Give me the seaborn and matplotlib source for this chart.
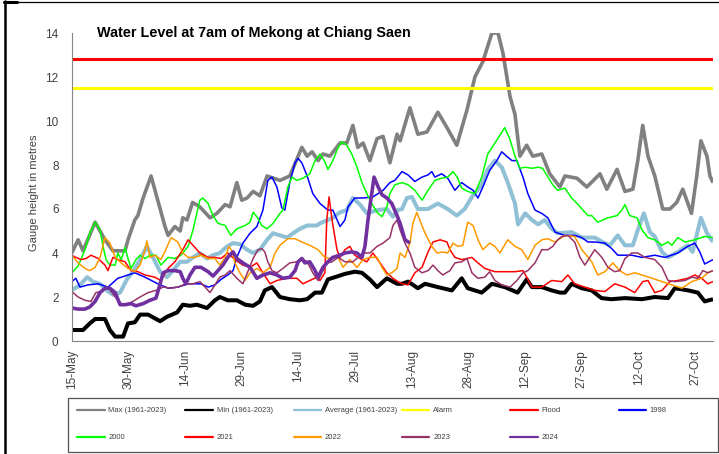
import matplotlib
matplotlib.use("Agg")
import matplotlib.pyplot as plt
import seaborn as sns
from matplotlib.lines import Line2D
from matplotlib.patches import Rectangle

# ---------------- data (day offset from 15-May, gauge height m) ----------------
tick_days = [0, 15, 30, 45, 60, 75, 90, 105, 120, 135, 150, 165]
tick_labels = ["15-May", "30-May", "14-Jun", "29-Jun", "14-Jul", "29-Jul",
               "13-Aug", "28-Aug", "12-Sep", "27-Sep", "12-Oct", "27-Oct"]
season_days = [0, 169.7]
alarm_level = 11.5
flood_level = 12.8

max_1961_2023 = [(0, 4.0), (1.7, 4.6), (3, 4.1), (6.2, 5.4), (7.5, 5.0), (8.8, 4.6), (10.9, 4.1), (14.1, 4.1),
    (14.9, 4.6), (16.7, 5.5), (17.5, 5.7), (18.9, 6.5), (21, 7.5), (22.6, 6.5), (24.7, 5.2), (25.5, 4.8),
    (27.3, 5.2), (28.7, 5.0), (29.4, 5.6), (30.5, 5.5), (32, 6.3), (33.9, 6.1), (36.6, 5.6), (38.4, 5.8),
    (40.6, 6.2), (41.9, 6.1), (43.7, 7.2), (45, 6.4), (46.4, 6.5), (48, 6.8), (49.8, 6.6), (51.7, 7.5),
    (55.1, 7.3), (57.7, 7.5), (60.9, 8.8), (62.3, 8.4), (63.6, 8.6), (65.2, 8.2), (66.5, 8.5), (68.3, 8.4),
    (71, 9.0), (72.8, 9.0), (74.4, 9.8), (75.7, 8.8), (77.1, 9.0), (78.9, 8.2), (80.8, 9.2), (82.4, 9.3),
    (84.2, 8.1), (86.1, 9.4), (86.9, 9.1), (89.5, 10.6), (91.6, 9.4), (94, 9.5), (96.9, 10.4), (99.3, 9.7),
    (101.9, 8.9), (104.6, 10.5), (106.7, 12.0), (108.8, 12.7), (111.2, 14.0), (112.8, 14.0), (114.1, 13.1),
    (116, 11.1), (117.3, 10.3), (118.6, 8.4), (120.4, 8.9), (122, 8.4), (124.4, 8.5), (126.5, 7.6),
    (129.2, 7.0), (130.5, 7.5), (133.7, 7.4), (136.3, 7.0), (139.8, 7.6), (141.6, 6.9), (144.3, 7.8),
    (146.4, 6.8), (148.5, 6.9), (149.8, 8.2), (151.1, 9.8), (152.5, 8.4), (154.3, 7.5), (156.4, 6.0),
    (158.3, 6.0), (160.1, 6.3), (161.7, 6.9), (164, 5.8), (165.4, 7.5), (166.5, 9.1), (168.1, 8.4),
    (168.9, 7.5), (169.7, 7.2)]

min_1961_2023 = [(0, 0.5), (3, 0.5), (4.8, 0.8), (6.2, 1.0), (8.8, 1.0), (10.1, 0.5), (11.5, 0.2), (13.6, 0.2),
    (14.9, 0.8), (16.7, 0.85), (18.1, 1.2), (20.2, 1.2), (23.4, 0.9), (25.2, 1.1), (27.9, 1.3), (29.4, 1.65),
    (31.3, 1.6), (33.1, 1.65), (35.8, 1.5), (37.9, 1.85), (39.2, 2.0), (41.3, 1.85), (43.7, 1.85), (45.9, 1.65),
    (48, 1.6), (49.8, 1.8), (51.1, 2.3), (53, 2.45), (55.1, 2.0), (57.7, 1.9), (60.4, 1.85), (62.3, 1.9),
    (64.4, 2.2), (66.2, 2.2), (67.8, 2.8), (69.6, 2.9), (72.3, 3.05), (74.9, 3.15), (76.8, 3.1), (78.9, 2.8),
    (80.8, 2.45), (83.4, 2.85), (86.1, 2.6), (87.4, 2.6), (89, 2.7), (91.6, 2.4), (93.5, 2.6), (96.9, 2.45),
    (100.6, 2.3), (103.2, 2.85), (104.8, 2.4), (108.5, 2.2), (111.2, 2.6), (114.6, 2.45), (118, 2.2),
    (120.4, 2.8), (121.8, 2.45), (124.4, 2.45), (127, 2.3), (129.2, 2.2), (130.5, 2.2), (132.3, 2.6),
    (134.9, 2.4), (137.6, 2.3), (140.2, 1.95), (142.8, 1.9), (146.4, 1.95), (150.9, 1.9), (154.3, 2.0),
    (157.8, 1.95), (159.6, 2.4), (163.1, 2.3), (165.7, 2.2), (167.5, 1.8), (169.7, 1.9)]

avg_1961_2023 = [(0, 2.3), (2.2, 2.55), (4.1, 2.9), (5.6, 2.7), (7.5, 2.6), (9.3, 2.3), (10.9, 2.1), (12.8, 2.2),
    (14.6, 2.8), (16.2, 3.15), (18.1, 3.7), (19.9, 4.3), (21.5, 3.8), (23.4, 3.15), (25.2, 2.9), (26.8, 3.2),
    (28.7, 3.6), (30.5, 3.6), (32.1, 3.8), (33.9, 4.0), (35.8, 3.75), (37.4, 3.9), (39.2, 4.0), (41.1, 4.3),
    (42.7, 4.45), (44.5, 4.4), (46.4, 4.15), (48, 4.0), (49.8, 4.15), (51.7, 4.6), (53.3, 4.9), (55.1, 4.8),
    (57, 4.7), (58.6, 4.9), (60.4, 5.1), (62.3, 5.25), (64.9, 5.25), (65.7, 5.35), (69.1, 5.6), (71, 5.85),
    (72.8, 5.95), (74.4, 6.5), (76.3, 6.2), (78.1, 5.8), (80.8, 5.95), (83.4, 6.0), (85, 5.65), (86.3, 5.95),
    (87.4, 6.0), (88.7, 6.5), (90, 6.55), (91.6, 6.0), (94.3, 6.0), (96.9, 6.25), (99.5, 6.0), (101.9, 5.7),
    (104, 6.0), (105.9, 6.55), (108.5, 7.1), (110.1, 7.8), (112, 8.2), (113.8, 7.9), (115.4, 7.2),
    (117.3, 6.25), (118.1, 5.3), (120, 5.8), (121.8, 5.5), (123.4, 5.3), (125.2, 5.5), (127, 5.1),
    (128.6, 4.9), (132.3, 4.95), (135, 4.7), (138.4, 4.7), (141, 4.45), (142.4, 4.35), (144.5, 4.8),
    (146.4, 4.35), (148.5, 4.35), (149.8, 5.05), (151.4, 5.8), (153, 4.95), (154.3, 4.75), (156.2, 4.05),
    (157.8, 3.8), (160.4, 4.05), (163, 4.35), (164.3, 4.05), (166.5, 5.6), (168.1, 4.9), (169.7, 4.5)]

y1998 = [(0, 2.7), (1.1, 2.85), (2.2, 2.45), (4.3, 2.55), (7, 2.6), (9.6, 2.45), (12.2, 2.85), (14.9, 3.0),
    (16.7, 3.1), (19.4, 2.9), (22.8, 2.6), (25.5, 2.4), (28.1, 2.45), (30.8, 2.6), (34.2, 2.6), (36.1, 2.45),
    (37.9, 2.55), (39.5, 2.8), (41.3, 3.0), (42.7, 3.2), (43.7, 3.8), (45.3, 4.45), (47.2, 4.9), (49, 5.2),
    (50.6, 5.95), (51.9, 7.3), (53, 7.45), (54.3, 7.0), (55.6, 6.05), (56.4, 5.95), (57.7, 7.2), (59.1, 8.1),
    (59.9, 8.3), (60.9, 8.1), (62.3, 7.5), (63.8, 6.7), (65.7, 6.25), (67.8, 5.95), (69.1, 5.95), (71, 5.2),
    (72.3, 5.5), (73.1, 6.1), (74.9, 6.5), (77.1, 6.5), (79.7, 6.55), (82.4, 6.85), (84.2, 7.2), (85.5, 7.3),
    (87.4, 7.7), (89, 7.55), (90.8, 7.25), (92.7, 7.45), (94.3, 7.55), (95.3, 7.7), (96.1, 7.45), (97.9, 7.6),
    (99.5, 7.4), (101.4, 6.85), (103.2, 7.2), (104.8, 7.0), (106.2, 6.85), (107.5, 6.5), (108.8, 7.0),
    (110.6, 7.75), (112.5, 8.2), (113.8, 8.6), (115.1, 8.4), (116.5, 8.2), (117.8, 8.2), (119.4, 7.45),
    (120.7, 6.7), (122.6, 5.95), (124.4, 5.8), (126, 5.6), (127.9, 4.95), (130.5, 4.8), (133.1, 4.8),
    (135, 4.7), (136.6, 4.5), (138.4, 4.5), (141.1, 4.45), (142.9, 4.2), (144.5, 3.9), (148.2, 3.9),
    (150.9, 3.8), (154.3, 3.9), (157, 3.8), (160.4, 4.0), (163, 4.3), (164.9, 4.45), (166.2, 4.05),
    (167.5, 3.5), (169.7, 3.7)]

y2000 = [(0, 3.1), (1.7, 3.4), (3.5, 4.15), (4.8, 4.9), (6.2, 5.4), (7.5, 5.05), (8.3, 4.3), (9.1, 3.7),
    (10.1, 3.45), (11.5, 3.45), (12.2, 4.0), (13.1, 3.7), (14.1, 4.25), (14.9, 3.75), (15.7, 3.3), (17, 3.7),
    (18.1, 3.9), (19.4, 3.75), (20.7, 3.9), (22.3, 3.9), (23.6, 3.45), (25.5, 3.8), (27.3, 3.75), (28.9, 3.9),
    (30.8, 4.3), (32.1, 5.05), (32.9, 5.65), (33.9, 6.4), (34.7, 6.5), (36.1, 6.25), (37.4, 5.7), (38.7, 5.35),
    (40.6, 5.25), (42.1, 4.8), (43.7, 5.1), (45.9, 5.25), (47.2, 5.4), (48, 5.85), (49, 5.65), (50.3, 5.25),
    (51.7, 5.1), (53.3, 5.35), (55.1, 5.8), (55.9, 5.95), (57.2, 7.0), (58.3, 7.45), (59.6, 7.3), (61.2, 7.4),
    (63, 7.6), (64.4, 8.2), (65.7, 8.5), (67, 8.15), (67.8, 7.8), (69.1, 8.2), (70.5, 8.8), (71.5, 9.05),
    (72.8, 8.9), (74.1, 8.5), (75.5, 7.9), (76.8, 7.2), (78.1, 6.7), (79.4, 6.25), (80.8, 5.85), (82.1, 5.65),
    (83.4, 6.1), (84.2, 6.7), (85.5, 7.1), (87.4, 7.2), (89, 7.1), (90.8, 6.85), (92.7, 6.4), (94.3, 6.85),
    (96.1, 7.3), (97.9, 7.4), (99.5, 7.45), (100.9, 7.7), (102, 7.45), (103.2, 6.95), (104.8, 6.8),
    (106.7, 6.7), (108.5, 7.45), (110.1, 8.5), (112, 9.0), (113.3, 9.35), (114.6, 9.7), (116, 9.15),
    (117.3, 8.4), (118.6, 7.85), (120, 7.9), (121.8, 7.85), (123.4, 7.9), (124.6, 7.85), (126, 7.45),
    (127.3, 7.1), (128.6, 6.85), (130.5, 6.95), (132.3, 6.5), (134, 6.2), (136.6, 5.7), (137.6, 5.7),
    (139.2, 5.4), (141.9, 5.6), (144.3, 5.7), (145.6, 5.95), (146.4, 6.2), (147.7, 5.7), (149.6, 5.6),
    (150.9, 5.05), (152.5, 4.7), (154.3, 4.6), (156.2, 4.35), (157.8, 4.5), (158.8, 4.35), (160.4, 4.7),
    (162.3, 4.5), (164.9, 4.6), (167.5, 4.75), (169.7, 4.7)]

y2021 = [(0, 3.9), (1.1, 3.8), (2.5, 3.7), (3.8, 3.75), (5.1, 3.9), (7, 3.75), (8.8, 3.45), (9.6, 3.2),
    (10.9, 3.8), (12.2, 3.7), (14.1, 3.6), (15.7, 3.2), (17.5, 3.15), (19.4, 3.0), (22, 2.9), (23.6, 2.75),
    (25.5, 3.3), (27.3, 3.6), (29.4, 4.15), (30.8, 4.6), (32.1, 4.35), (33.9, 4.0), (36.1, 3.8), (37.9, 3.8),
    (39.5, 3.75), (41.3, 4.0), (43.2, 3.7), (45.3, 3.45), (47.2, 3.35), (49, 3.55), (50.6, 3.1), (52.5, 2.6),
    (54.3, 2.75), (56.9, 2.85), (59.6, 2.85), (61.2, 2.6), (63, 2.75), (64.9, 2.9), (65.7, 2.75), (67, 3.1),
    (67.5, 5.5), (68.1, 6.55), (68.9, 5.5), (70.2, 4.15), (71, 3.8), (72.3, 4.15), (73.6, 4.3), (74.9, 3.9),
    (76.8, 3.7), (78.1, 3.6), (79.7, 4.0), (81.6, 3.55), (83.4, 3.1), (85, 2.85), (86.3, 2.7), (87.4, 2.6),
    (89, 2.55), (90.8, 3.1), (92.7, 3.35), (94.3, 4.05), (95.6, 4.5), (97.5, 4.6), (99.3, 4.5), (100.1, 4.15),
    (101.4, 3.8), (103.2, 3.7), (105.9, 3.8), (107.5, 3.55), (109.3, 3.3), (112, 3.15), (117.3, 3.15),
    (119.4, 3.2), (120.4, 2.9), (121.8, 2.45), (124.4, 2.45), (127, 2.75), (129.7, 2.7), (131.3, 3.0),
    (133.1, 2.6), (135.8, 2.45), (138.4, 2.3), (141.1, 2.25), (143.7, 2.6), (146.4, 2.45), (149, 2.2),
    (151.1, 2.7), (152.5, 2.75), (154.3, 2.2), (156.2, 2.3), (158.3, 2.7), (160.4, 2.75), (163, 2.85),
    (164.9, 3.0), (166.7, 2.85), (168.3, 2.6), (169.7, 2.7)]

y2022 = [(0, 3.9), (1.7, 3.55), (3.5, 3.3), (4.8, 3.2), (6.2, 3.35), (7.5, 3.8), (8.8, 4.7), (10.1, 4.45),
    (11.5, 3.8), (13.1, 3.55), (14.9, 3.3), (16.7, 3.15), (18.1, 3.45), (19.4, 4.15), (19.9, 4.55), (20.7, 3.8),
    (22, 3.9), (23.6, 3.7), (24.9, 4.15), (26.3, 4.7), (28.1, 4.5), (29.4, 4.0), (30.8, 3.8), (32.6, 3.8),
    (34.2, 3.9), (36.1, 3.75), (37.9, 3.75), (39.2, 3.45), (40.6, 3.8), (41.6, 4.3), (42.4, 4.1), (43.2, 3.55),
    (44.5, 3.1), (45.9, 2.75), (47.2, 3.1), (49, 3.3), (50.6, 3.1), (52.5, 3.35), (53.8, 4.0), (55.1, 4.35),
    (57.2, 4.65), (59.1, 4.65), (60.9, 4.5), (63, 4.35), (65.2, 4.15), (67, 3.8), (68.3, 3.75), (70.2, 3.9),
    (71.8, 3.35), (73.6, 3.7), (75.5, 3.35), (77.1, 3.7), (78.9, 3.8), (80.8, 3.8), (82.1, 3.35), (83.4, 3.0),
    (84.7, 3.1), (86.1, 3.3), (86.9, 4.0), (88.2, 3.8), (89.5, 4.45), (90.3, 5.35), (91.3, 5.85), (92.1, 5.5),
    (93.5, 4.9), (95.3, 4.3), (96.7, 4.0), (98.2, 4.05), (99.5, 4.0), (100.9, 4.45), (102.2, 4.3),
    (103.5, 4.35), (104.8, 5.4), (106.2, 5.25), (107.5, 4.6), (108.8, 4.15), (110.6, 4.45), (112, 4.3),
    (113.3, 4.0), (115.4, 4.6), (117.3, 4.3), (119.1, 4.15), (120.7, 3.7), (122.6, 4.35), (124.4, 4.6),
    (126, 4.65), (127.9, 4.5), (130.5, 4.8), (133.1, 4.75), (135, 4.15), (137.6, 3.6), (139.2, 3.0),
    (141.1, 3.15), (143.2, 3.55), (145, 3.2), (146.9, 3.0), (149, 3.1), (150.9, 3.0), (153.6, 2.85),
    (156.2, 2.7), (158.8, 2.55), (161.5, 2.4), (164.1, 2.7), (166.7, 2.85), (168.3, 3.1), (169.7, 3.2)]

y2023 = [(0, 2.25), (1.7, 2.0), (3.5, 1.85), (5.1, 1.8), (6.4, 2.2), (7.8, 2.25), (9.6, 2.45), (11.5, 2.0),
    (13.1, 1.7), (14.4, 1.65), (16.2, 1.8), (18.1, 2.0), (20.2, 2.2), (22.3, 2.3), (24.2, 2.45), (26.3, 2.4),
    (28.1, 2.45), (30.2, 2.6), (32.1, 2.6), (33.9, 2.7), (35.3, 2.45), (36.6, 2.2), (37.9, 2.55), (39.2, 2.9),
    (40.6, 3.0), (41.9, 3.2), (43.7, 2.85), (45.3, 2.6), (46.6, 3.15), (48, 3.75), (49.3, 4.15), (50.3, 4.2),
    (51.1, 4.05), (51.9, 3.6), (53, 3.2), (54.3, 3.1), (55.9, 3.3), (57.7, 3.55), (59.6, 3.6), (60.9, 3.75),
    (62.3, 3.6), (63.8, 3.1), (65.2, 2.75), (66.2, 3.1), (67.5, 3.55), (68.9, 3.6), (70.5, 3.8), (72.3, 3.6),
    (74.4, 3.6), (77.1, 4.0), (78.9, 4.0), (80.8, 4.3), (82.4, 4.45), (84.2, 4.7), (85, 5.25), (86.1, 5.5),
    (86.9, 5.05), (88.2, 4.45), (89.5, 4.0), (90.8, 3.35), (92.7, 3.1), (94.3, 3.2), (95.6, 3.45), (96.9, 3.2),
    (98.2, 3.0), (100.1, 3.2), (101.4, 3.55), (103.2, 3.6), (104.6, 3.75), (105.9, 3.1), (107.5, 2.85),
    (109.3, 2.9), (110.6, 3.15), (112, 2.75), (113.8, 2.55), (116, 2.45), (117.8, 2.75), (119.4, 3.1),
    (120.7, 3.2), (122.6, 3.55), (124.4, 4.15), (126, 4.15), (127.3, 4.3), (128.6, 4.6), (129.7, 4.75),
    (131.3, 4.8), (133.1, 4.5), (134.5, 3.8), (135.8, 3.45), (137.1, 3.8), (138.4, 4.15), (140.3, 3.8),
    (141.9, 3.35), (143.7, 3.15), (145, 3.2), (146.4, 3.75), (148.2, 4.0), (149.8, 4.0), (151.7, 3.8),
    (154.3, 3.7), (156.2, 3.35), (157.8, 2.75), (159.6, 2.7), (162.3, 2.75), (164.1, 2.9), (165.7, 2.85),
    (167, 3.2), (168.3, 3.1), (169.7, 3.2)]

y2024 = [(0, 1.5), (1.7, 1.45), (3.5, 1.45), (4.8, 1.55), (6.2, 1.8), (7.5, 2.2), (8.8, 2.4), (10.1, 2.4),
    (11.5, 2.2), (12.8, 1.65), (14.1, 1.65), (15.7, 1.7), (17, 1.6), (18.9, 1.7), (20.7, 1.85), (22.3, 1.95),
    (23.4, 2.6), (24.2, 3.1), (25.5, 3.2), (27.3, 3.2), (28.7, 3.15), (29.4, 2.85), (30.2, 2.6), (31.3, 3.0),
    (32.6, 3.35), (34.2, 3.35), (36.1, 3.15), (37.4, 2.95), (38.7, 3.2), (40, 3.45), (41.3, 3.8), (42.7, 4.05),
    (43.7, 3.75), (45.3, 3.55), (47.2, 3.35), (49, 2.85), (50.6, 3.0), (52.5, 3.1), (54.3, 3.0), (55.9, 2.85),
    (57.7, 2.9), (59.1, 3.2), (59.9, 3.6), (60.9, 3.75), (61.7, 3.55), (63, 3.6), (64.4, 3.2), (65.2, 2.9),
    (66.5, 3.35), (67.8, 3.6), (69.1, 3.8), (71, 3.9), (72.3, 4.0), (74.1, 4.05), (75.5, 4.0), (76.8, 3.8),
    (77.6, 4.3), (78.4, 5.5), (79.4, 6.7), (80, 7.45), (81.1, 7.0), (82.1, 6.65), (83.4, 6.5), (84.7, 6.25),
    (86.1, 5.7), (86.9, 5.35), (88.2, 4.6), (89.5, 4.45)]

# ---------------- style ----------------
sns.set_style("white")
plt.rcParams["font.family"] = ["Liberation Sans", "DejaVu Sans"]

W, H = 719, 454
fig = plt.figure(figsize=(W / 100, H / 100), dpi=100)
fig.patch.set_facecolor("white")
ax = fig.add_axes([71.7 / W, 1 - 341 / H, (713 - 71.7) / W, (341 - 33) / H])
ax.set_facecolor("white")

series = [
    ("Max (1961-2023)", max_1961_2023, "#808080", 2.6),
    ("Min (1961-2023)", min_1961_2023, "#000000", 2.9),
    ("Average (1961-2023)", avg_1961_2023, "#8FC0D5", 2.9),
    ("Alarm", [(d, alarm_level) for d in season_days], "#FFFF00", 2.2),
    ("Flood", [(d, flood_level) for d in season_days], "#FF0000", 2.2),
    ("1998", y1998, "#0000FF", 1.1),
    ("2000", y2000, "#00FF00", 1.1),
    ("2021", y2021, "#FF0000", 1.1),
    ("2022", y2022, "#FF9900", 1.1),
    ("2023", y2023, "#993366", 1.1),
    ("2024", y2024, "#7030A0", 2.6),
]

legend_colors = {}
for label, pts, color, lw in series:
    xs = [p[0] for p in pts]
    ys = [p[1] for p in pts]
    sns.lineplot(x=xs, y=ys, ax=ax, color=color, linewidth=lw, estimator=None,
                 sort=False, legend=False, solid_joinstyle="round", solid_capstyle="butt")
    legend_colors[label] = color

ax.set_xlim(season_days[0], season_days[1])
ax.set_ylim(0, 14)
ax.set_yticks(range(0, 15, 2))
ax.set_xticks(tick_days)
ax.set_xticklabels(tick_labels, rotation=90)
ax.tick_params(axis="both", direction="out", length=3.5, width=0.8, color="#868686",
               labelsize=8.5, labelcolor="#404040")
ax.tick_params(axis="y", pad=6)
ax.tick_params(axis="x", pad=3)
for s in ["top", "right"]:
    ax.spines[s].set_visible(False)
for s in ["left", "bottom"]:
    ax.spines[s].set_color("#868686")
    ax.spines[s].set_linewidth(0.8)
ax.set_xlabel("")
ax.set_ylabel("Gauge height in metres", fontsize=8, color="#404040")
ax.yaxis.set_label_coords((39 - 71.7) / (713 - 71.7), (341 - 193) / 308)

fig.text(97 / W, 1 - 33 / H, "Water Level at 7am of Mekong at Chiang Saen",
         fontsize=10.4, fontweight="bold", va="center", ha="left", color="black")

# ---------------- legend: 6 uniform columns inside one frame ----------------
order = [["Max (1961-2023)", "2000"], ["Min (1961-2023)", "2021"], ["Average (1961-2023)", "2022"],
         ["Alarm", "2023"], ["Flood", "2024"], ["1998"]]
col_x0 = 77
col_step = 108.3
row1_top = 407
for i, labs in enumerate(order):
    handles = [Line2D([0], [0], color=legend_colors[l], lw=1.6) for l in labs]
    fig.legend(handles, labs, loc="upper left",
               bbox_to_anchor=((col_x0 + i * col_step) / W, 1 - row1_top / H),
               frameon=False, borderpad=0, borderaxespad=0, handlelength=3.6,
               handletextpad=0.5, labelspacing=2.55, fontsize=5.5,
               labelcolor="#404040")
fig.add_artist(Rectangle((68 / W, 1 - 452 / H), 650 / W, 54 / H, transform=fig.transFigure,
                         fill=False, edgecolor="#505050", linewidth=0.9))

# outer chart border (left and top)
fig.add_artist(Line2D([5 / W, 5 / W], [0, 1 - 1 / H], transform=fig.transFigure,
                      color="black", lw=1.8))
fig.add_artist(Line2D([4 / W, 1], [1 - 1.5 / H, 1 - 1.5 / H], transform=fig.transFigure,
                      color="black", lw=0.9))
fig.add_artist(Line2D([4 / W, 17 / W], [1 - 1.5 / H, 1 - 1.5 / H], transform=fig.transFigure,
                      color="black", lw=2.2))

fig.savefig("out.png", dpi=100, facecolor="white")
